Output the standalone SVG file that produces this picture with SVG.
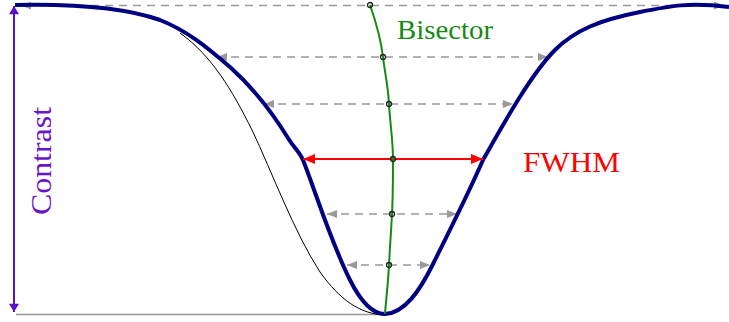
<svg xmlns="http://www.w3.org/2000/svg" width="729" height="322" viewBox="0 0 729 322">
<defs>
<style>
.dash{stroke:#999;stroke-width:1.4;stroke-dasharray:8,6;fill:none;marker-start:url(#ga);marker-end:url(#ga)}
.pt{fill:none;stroke:#222;stroke-width:1.3}
.lbl{font-family:"Liberation Serif","DejaVu Serif",serif}
</style>
<marker id="ga" viewBox="0 0 10 8" refX="10" refY="4" markerWidth="10" markerHeight="8" markerUnits="userSpaceOnUse" orient="auto-start-reverse"><path d="M0,0L10,4L0,8z" fill="#999"/></marker>
<marker id="ra" viewBox="0 0 12 10" refX="12" refY="5" markerWidth="12" markerHeight="10" markerUnits="userSpaceOnUse" orient="auto-start-reverse"><path d="M0,0L12,5L0,10z" fill="#ff0000"/></marker>
<marker id="pa" viewBox="0 0 10 12" refX="10" refY="6" markerWidth="12" markerHeight="10" markerUnits="userSpaceOnUse" orient="auto-start-reverse"><path d="M0,0L10,6L0,12z" fill="#5a10c8"/></marker>
</defs>
<rect width="729" height="322" fill="#fff"/>
<g id="connectors">
<path class="dash" d="M21,5.5H724"/>
<path class="dash" d="M217,57H548"/>
<path class="dash" d="M264,104H513"/>
<path class="dash" d="M327,214H457"/>
<path class="dash" d="M347,265H430"/>
<line x1="16" y1="314.5" x2="385" y2="314.5" stroke="#999" stroke-width="1.5"/>
</g>
<g id="gaussian">
<path d="M180,33 C212,56 232,90 252,130 C272,172 294,232 320,272 C340,300 360,314 385,315" fill="none" stroke="#000" stroke-width="1"/>
</g>
<g id="profile">
<path d="M15,5 C60,4 120,6 160,20 C190,32 210,50 230,67 C250,85 272,112 288,138 C294,148 299,151 303,160 C315,190 330,240 350,280 C360,300 372,314 385,314 C405,313 420,290 432,266 C445,240 470,190 483,160 C500,130 530,75 555,50 C575,30 600,20 640,12 C670,6 690,2 729,7" fill="none" stroke="#000080" stroke-width="4" stroke-linejoin="round"/>
</g>
<g id="fwhm">
<line x1="303" y1="159" x2="483" y2="159" stroke="#ff0000" stroke-width="2" marker-start="url(#ra)" marker-end="url(#ra)"/>
<text class="lbl" x="523" y="172" font-size="30" fill="#ff0000" textLength="97" lengthAdjust="spacingAndGlyphs">FWHM</text>
</g>
<g id="contrast">
<line x1="14" y1="6" x2="14" y2="312" stroke="#5a10c8" stroke-width="2" marker-start="url(#pa)" marker-end="url(#pa)"/>
<text class="lbl" transform="translate(51,215) rotate(-90)" font-size="30" fill="#6a14c8" textLength="108" lengthAdjust="spacingAndGlyphs">Contrast</text>
</g>
<g id="bisector">
<path d="M370,5 C376,22 381,40 383,57 S388,85 389,104 S393,140 393,159 S393,195 392,214 S390,245 389,265 S386,300 385,314" fill="none" stroke="#158a15" stroke-width="2"/>
<circle class="pt" cx="370" cy="5" r="2.5" fill="#fff"/>
<circle class="pt" cx="383" cy="57" r="2.5"/>
<circle class="pt" cx="389" cy="104" r="2.5"/>
<circle class="pt" cx="393" cy="159" r="2.5"/>
<circle class="pt" cx="392" cy="214" r="2.5"/>
<circle class="pt" cx="389" cy="265" r="2.5"/>
<text class="lbl" x="397" y="39" font-size="28" fill="#158a15" textLength="96" lengthAdjust="spacingAndGlyphs">Bisector</text>
</g>
</svg>
